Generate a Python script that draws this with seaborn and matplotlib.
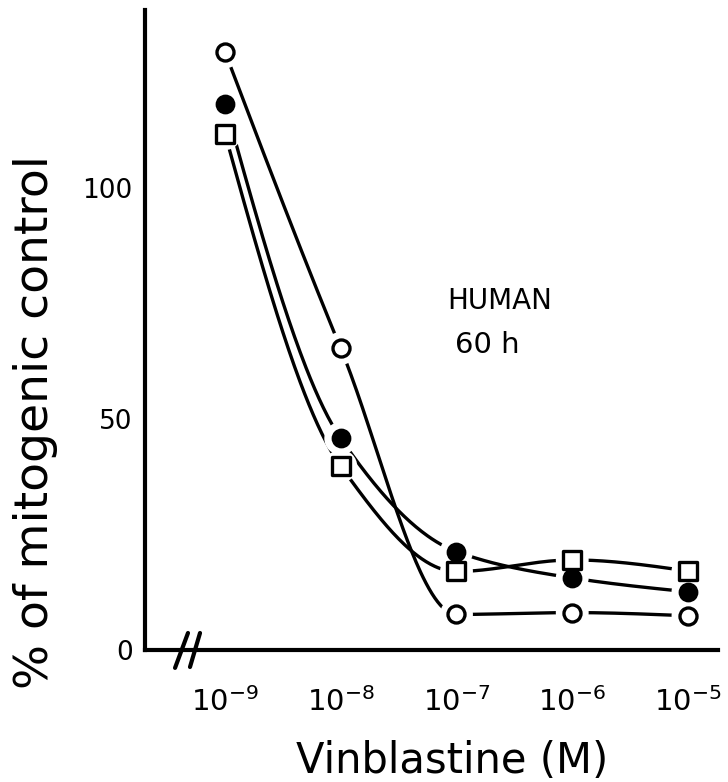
import numpy as np
import pandas as pd
import matplotlib
matplotlib.use("Agg")
import matplotlib.pyplot as plt
import seaborn as sns

# Vinblastine concentration (M) and response (% of mitogenic control)
conc = [1e-9, 1e-8, 1e-7, 1e-6, 1e-5]
open_circle = [129.5, 65.3, 7.7, 8.1, 7.4]
filled_circle = [118.2, 45.8, 21.3, 15.6, 12.6]
open_square = [111.8, 39.8, 17.0, 19.5, 17.1]

x_ticks = [1e-9, 1e-8, 1e-7, 1e-6, 1e-5]
x_tick_labels = [r"$10^{-9}$", r"$10^{-8}$", r"$10^{-7}$", r"$10^{-6}$", r"$10^{-5}$"]
y_ticks = [0, 50, 100]
y_tick_labels = ["0", "50", "100"]


def smooth(xs, ys, n=80):
    """Shape-preserving (Fritsch-Carlson) cubic through the points, in log10(x)."""
    lx = np.log10(np.asarray(xs, float))
    y = np.asarray(ys, float)
    h = np.diff(lx)
    d = np.diff(y) / h
    m = np.zeros_like(y)
    for k in range(1, len(y) - 1):
        if d[k - 1] * d[k] > 0:
            w1 = 2 * h[k] + h[k - 1]
            w2 = h[k] + 2 * h[k - 1]
            m[k] = (w1 + w2) / (w1 / d[k - 1] + w2 / d[k])
    for k, j, dd in ((0, 1, d[0]), (len(y) - 1, len(y) - 2, d[-1])):
        e = (3 * dd - m[j]) / 2
        m[k] = 0.0 if e * dd <= 0 else e
    out_x, out_y = [], []
    for i in range(len(lx) - 1):
        t = np.linspace(0, 1, n, endpoint=(i == len(lx) - 2))
        h00 = 2 * t**3 - 3 * t**2 + 1
        h10 = t**3 - 2 * t**2 + t
        h01 = -2 * t**3 + 3 * t**2
        h11 = t**3 - t**2
        out_y.append(h00 * y[i] + h10 * h[i] * m[i] + h01 * y[i + 1] + h11 * h[i] * m[i + 1])
        out_x.append(10 ** (lx[i] + t * h[i]))
    return np.concatenate(out_x), np.concatenate(out_y)


series = {"open circle": open_circle, "filled circle": filled_circle, "open square": open_square}
frames = []
for name, vals in series.items():
    cx, cy = smooth(conc, vals)
    frames.append(pd.DataFrame({"conc": cx, "value": cy, "series": name}))
curves = pd.concat(frames, ignore_index=True)

sns.set_style("white")
plt.rcParams["font.family"] = ["DejaVu Sans"]
plt.rcParams["mathtext.fontset"] = "dejavusans"
plt.rcParams["text.color"] = "black"
plt.rcParams["axes.labelcolor"] = "black"

fig = plt.figure(figsize=(7.28, 7.82), dpi=100)
ax = fig.add_axes([0.1992, 0.1688, 0.787, 0.818])
ax.set_xscale("log")

sns.lineplot(data=curves, x="conc", y="value", units="series", estimator=None,
             sort=False, color="black", linewidth=2.4, ax=ax, zorder=2)

# white halos leave a small gap between each curve and its symbols
for vals in series.values():
    sns.scatterplot(x=conc, y=vals, marker="o", s=560, color="white",
                    edgecolor="none", linewidth=0, ax=ax, zorder=3)

sns.scatterplot(x=conc, y=open_circle, marker="o", s=150, color="white",
                edgecolor="black", linewidth=2.4, ax=ax, zorder=4)
sns.scatterplot(x=conc, y=filled_circle, marker="o", s=150, color="black",
                edgecolor="black", linewidth=2.0, ax=ax, zorder=4)
sns.scatterplot(x=conc, y=open_square, marker="s", s=150, color="white",
                edgecolor="black", linewidth=2.4, ax=ax, zorder=4)

ax.set_xlim(10 ** -9.691, 10 ** -4.741)
ax.set_ylim(0, 138.5)
ax.set_xticks(x_ticks)
ax.set_xticklabels(x_tick_labels)
ax.xaxis.set_minor_locator(matplotlib.ticker.NullLocator())
ax.set_yticks(y_ticks)
ax.set_yticklabels(y_tick_labels)

for side in ("top", "right"):
    ax.spines[side].set_visible(False)
for side in ("left", "bottom"):
    ax.spines[side].set_linewidth(3.0)
    ax.spines[side].set_color("black")

ax.tick_params(axis="x", which="major", direction="in", length=13, width=2.5,
               pad=27, labelsize=21, colors="black")
ax.tick_params(axis="y", which="major", direction="in", length=11, width=3,
               pad=9, labelsize=19, colors="black")

ax.set_xlabel("Vinblastine (M)", fontsize=30)
ax.xaxis.set_label_coords(0.536, -0.14)
ax.set_ylabel("% of mitogenic control", fontsize=34)
ax.yaxis.set_label_coords(-0.152, 0.356)

# axis break on the concentration axis
for x0, y0, x1, y1 in [(0.0524, -0.028, 0.075, 0.0266), (0.0785, -0.0266, 0.096, 0.0266)]:
    ax.plot([x0, x1], [y0, y1], transform=ax.transAxes, color="black",
            linewidth=3, clip_on=False, solid_capstyle="round")

fig.text(447 / 728, 1 - 309 / 782, "HUMAN", fontsize=20, va="baseline", ha="left")
fig.text(455 / 728, 1 - 353 / 782, "60 h", fontsize=21, va="baseline", ha="left")

fig.savefig("out.png", dpi=100)
